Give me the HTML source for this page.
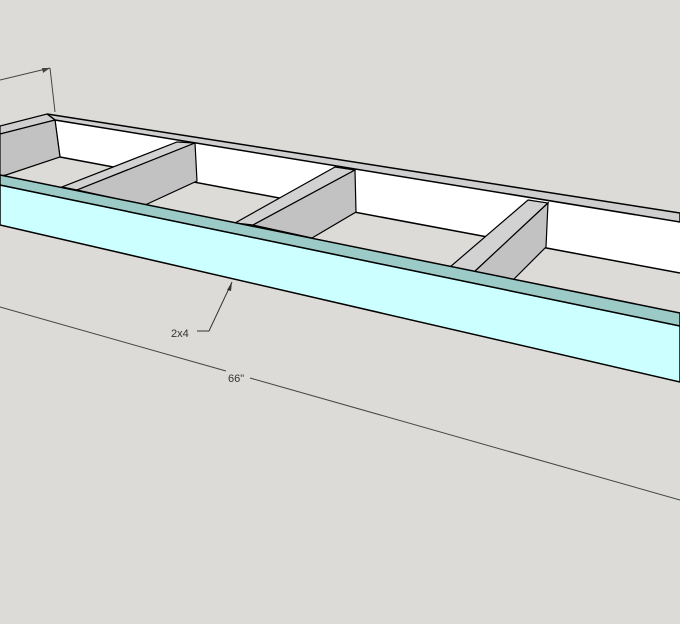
<!DOCTYPE html>
<html><head><style>
html,body{margin:0;padding:0;background:#dcdbd7;}
svg{display:block;}
text{font-family:"Liberation Sans",sans-serif;font-size:11px;fill:#333;}
</style></head><body>
<svg width="680" height="624" viewBox="0 0 680 624">
<rect width="680" height="624" fill="#dcdbd7"/>
<!-- back rail inner face (white) -->
<polygon points="55,120 680,222 680,273 60,157" fill="#ffffff" stroke="none"/>
<!-- back rail top face -->
<polygon points="47,114 680,213 680,222 55,120" fill="#cfcfcf" stroke="#000" stroke-width="1.5"/>
<line x1="60" y1="157" x2="680" y2="273" stroke="#000" stroke-width="1.5"/>
<line x1="55" y1="120" x2="60" y2="157" stroke="#000" stroke-width="1.2"/>
<!-- left end board -->
<polygon points="0,126 47,114 55,120 0,134" fill="#cfcfcf" stroke="#000" stroke-width="1.2"/>
<polygon points="0,134 55,120 60,157 6,175 0,176" fill="#c2c2c2" stroke="#000" stroke-width="1.2"/>
<!-- joist 1 -->
<polygon points="177,142 195,143 77,190 62,187" fill="#d2d2d2" stroke="#000" stroke-width="1.2"/>
<polygon points="195,143 197,181 145,205 77,190" fill="#c2c2c2" stroke="#000" stroke-width="1.2"/>
<!-- joist 2 -->
<polygon points="335,167 355,170 253,225 235,223" fill="#d2d2d2" stroke="#000" stroke-width="1.2"/>
<polygon points="355,170 356,212 312,238 253,225" fill="#c2c2c2" stroke="#000" stroke-width="1.2"/>
<!-- joist 3 -->
<polygon points="528,200 548,203 473,273 450,267" fill="#d2d2d2" stroke="#000" stroke-width="1.2"/>
<polygon points="548,203 546,247 512,281 473,273" fill="#c2c2c2" stroke="#000" stroke-width="1.2"/>
<!-- front rail cyan face -->
<polygon points="0,185 680,326 680,382 0,225" fill="#ccffff" stroke="#000" stroke-width="1.5"/>
<!-- front rail top (teal) -->
<polygon points="0,175 680,313 680,326 0,185" fill="#9ccbc7" stroke="#000" stroke-width="1.5"/>
<!-- top-left dimension -->
<line x1="0" y1="80" x2="50" y2="68" stroke="#444" stroke-width="1"/>
<polygon points="50,68 42,68 43,73" fill="#444"/>
<line x1="50" y1="68" x2="55" y2="112" stroke="#444" stroke-width="1"/>
<!-- 2x4 leader -->
<polyline points="232,282 209,331 197,331" fill="none" stroke="#333" stroke-width="1"/>
<polygon points="232,282 227,290 231,291" fill="#333"/>
<text x="171" y="337">2x4</text>
<!-- 66" dimension -->
<line x1="0" y1="307" x2="226" y2="371" stroke="#444" stroke-width="1"/>
<line x1="250" y1="378" x2="680" y2="500" stroke="#444" stroke-width="1"/>
<text x="228" y="382">66"</text>
</svg>
</body></html>
